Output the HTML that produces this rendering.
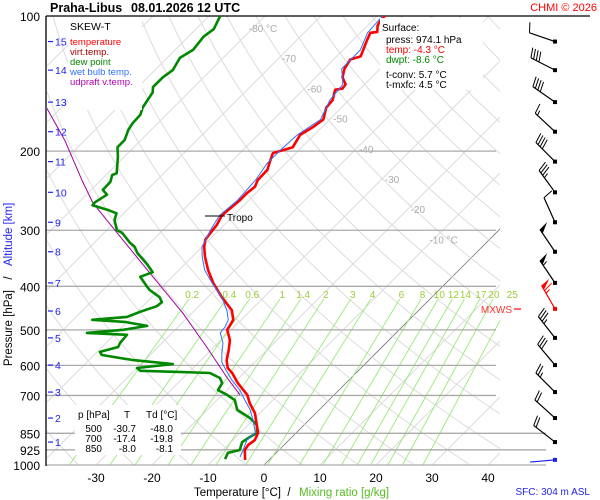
<!DOCTYPE html>
<html><head><meta charset="utf-8">
<style>
html,body{margin:0;padding:0;background:#fff;}
svg{display:block;font-family:"Liberation Sans",sans-serif;}
</style></head>
<body>
<svg id="chart" width="600" height="500" viewBox="0 0 600 500">
<defs>
<clipPath id="plotclip"><rect x="47" y="16" width="453" height="449"/></clipPath>
<clipPath id="mrclip"><rect x="47" y="299" width="453" height="166"/></clipPath>
</defs>
<rect x="0" y="0" width="600" height="500" fill="#fff"/>
<g id="bg" clip-path="url(#plotclip)"></g>
<g id="mr" clip-path="url(#mrclip)"></g>
<g id="plines"></g>
<g id="labels"></g>
<g id="series" clip-path="url(#plotclip)"></g>
<g id="winds"></g>

<text x="50" y="12" font-size="12.5" font-weight="bold">Praha-Libus</text>
<text x="131" y="12" font-size="12.5" font-weight="bold">08.01.2026 12 UTC</text>
<text x="597" y="11" font-size="11" fill="#f00" text-anchor="end">CHMI © 2026</text>

<g>
<rect x="68" y="17" width="74" height="93" fill="#fff"/>
<text x="70" y="30" font-size="10.5" fill="#000">SKEW-T</text>
<text x="70" y="45" font-size="9.5" fill="#f00">temperature</text>
<text x="70" y="55" font-size="9.5" fill="#a00">virt.temp.</text>
<text x="70" y="65" font-size="9.5" fill="#080">dew point</text>
<text x="70" y="75" font-size="9.5" fill="#3070ff">wet bulb temp.</text>
<text x="70" y="85" font-size="9.5" fill="#b000b0">udpraft v.temp.</text>
</g>
<g id="axes"></g>

<g>
<rect x="380" y="18" width="103" height="72" fill="#fff"/>
<text x="382" y="31" font-size="10">Surface:</text>
<text x="386" y="43" font-size="10">press: 974.1 hPa</text>
<text x="386" y="53" font-size="10" fill="#f00">temp: -4.3 °C</text>
<text x="386" y="63" font-size="10" fill="#080">dwpt: -8.6 °C</text>
<text x="386" y="78" font-size="10">t-conv: 5.7 °C</text>
<text x="386" y="88" font-size="10">t-mxfc: 4.5 °C</text>
</g>

<g>
<rect x="75" y="405" width="106" height="50" fill="#fff"/>
<text x="78" y="418" font-size="10">p [hPa]</text>
<text x="127" y="418" font-size="10" text-anchor="middle">T</text>
<text x="146" y="418" font-size="10">Td [°C]</text>
<text x="102" y="432" font-size="10" text-anchor="end">500</text>
<text x="136" y="432" font-size="10" text-anchor="end">-30.7</text>
<text x="173" y="432" font-size="10" text-anchor="end">-48.0</text>
<text x="102" y="442" font-size="10" text-anchor="end">700</text>
<text x="136" y="442" font-size="10" text-anchor="end">-17.4</text>
<text x="173" y="442" font-size="10" text-anchor="end">-19.8</text>
<text x="102" y="452" font-size="10" text-anchor="end">850</text>
<text x="136" y="452" font-size="10" text-anchor="end">-8.0</text>
<text x="173" y="452" font-size="10" text-anchor="end">-8.1</text>
</g>

<g>
<line x1="205" y1="216" x2="225" y2="216" stroke="#000" stroke-width="1"/>
<text x="227" y="221" font-size="10">Tropo</text>
</g>
<text x="512" y="313" font-size="10" fill="#f33" text-anchor="end">MXWS</text>
<line x1="514" y1="309" x2="521" y2="309" stroke="#f00" stroke-width="1.2"/>

<g transform="rotate(-90 12 258)">
<text x="-20" y="258" font-size="11.5" text-anchor="end">Pressure [hPa]</text>
<text x="-8" y="258" font-size="11.5" text-anchor="middle">/</text>
<text x="4" y="258" font-size="11.5" fill="#2222ee">Altitude [km]</text>
</g>
<text x="281" y="496" font-size="11.5" text-anchor="end">Temperature [°C]</text>
<text x="289" y="496" font-size="11.5" text-anchor="middle">/</text>
<text x="299" y="496" font-size="11.5" fill="#55bb22">Mixing ratio [g/kg]</text>
<text x="590" y="495" font-size="10" fill="#2222ee" text-anchor="end">SFC: 304 m ASL</text>
</svg>

<script>
// ---- data ----
const tempP = [974,926,903,880,848,807,766,728,698,657,624,608,584,555,527,500,475,452,423,393,368,344,327,315,300,292,278,266,257,248,240,232,220,213,202,199,196,184,177,170,160,154,146,145,142,137,131,125,123,119,113,109,108.5,105,100.5,100];
const tempT = [-4.3,-6.1,-6.4,-6.1,-6.8,-8.8,-10.9,-13.6,-15.5,-19.3,-22.1,-23.8,-25.4,-26.8,-28.4,-30.7,-31.4,-33.4,-37.5,-41.6,-44.8,-47.7,-49.6,-50.7,-51.1,-51.3,-52.1,-51.8,-51.6,-51.6,-51.3,-52.0,-52.1,-52.9,-54.1,-52.9,-51.6,-52.5,-51.6,-51.1,-52.7,-52.9,-54.3,-53.2,-53.4,-55.2,-56.4,-57.0,-55.7,-56.4,-57.5,-58.2,-57.1,-58.2,-58.8,-58.5];
const dewP = [970,940,926,889,866,848,815,786,754,717,698,681,657,640,624,621,617,608,596,584,569,560,546,535,513,508,500,490,480,475,468,456,443,434,423,408,401,381,372,359,349,337,327,319,304,300,285,275,270,264,260,250,244,234,226,224,206,196,189,179,173,166,160,148,144,137,132,124,119,111,107,100];
const dewT = [-8.0,-8.6,-7.0,-8.0,-7.5,-7.0,-8.4,-10.9,-14.6,-16.8,-19.1,-21.6,-22.1,-23.4,-26.1,-31.1,-38.9,-40.0,-34.3,-42.1,-48.6,-49.5,-47.1,-47.5,-47.7,-55.2,-49.3,-45.7,-50.4,-56.6,-50.9,-49.5,-47.5,-47.3,-48.6,-51.6,-52.7,-55.7,-54.3,-56.4,-58.2,-60.5,-62.0,-63.8,-66.8,-68.2,-70.4,-71.3,-73.6,-77.0,-77.1,-76.3,-77.9,-78.0,-78.9,-78.4,-81.1,-82.9,-82.9,-84.1,-84.5,-84.6,-85.5,-86.4,-87.3,-87.3,-86.8,-87.7,-86.8,-87.3,-86.8,-88.0];
const wbP = [960,926,880,848,794,754,717,681,647,614,590,560,535,508,493,475,452,423,393,368,344,327,300,278,257,232,213,199,184,170,154,142,131,119,109,100];
const wbT = [-5.7,-6.4,-7.5,-7.3,-10.0,-12.3,-15.0,-17.7,-20.9,-23.8,-25.9,-27.7,-29.1,-31.4,-31.6,-32.3,-34.3,-37.5,-41.8,-45.4,-48.2,-50.0,-51.5,-52.5,-52.0,-52.4,-53.3,-53.3,-53.0,-51.6,-53.4,-53.9,-56.9,-56.9,-58.7,-59.0];
const updP = [159,189,232,261,304,374,459,546,640,698];
const updT = [-103.0,-93.6,-83.4,-77.3,-67.7,-54.6,-41.6,-31.3,-22.1,-16.8];
const pressureLevels = [100,200,300,400,500,600,700,850,925,1000];
const altKm = [15,14,13,12,11,10,9,8,7,6,5,4,3,2,1];
const altP = [114,132,155.5,181,211,247,288,335,393,454,521,599,688,786,889];
const tempTicks = [-30,-20,-10,0,10,20,30,40];
const isoLabels = [-80,-70,-60,-50,-40,-30,-20,-10];
const mrValues = [0.2,0.4,0.6,1,1.4,2,3,4,6,8,10,12,14,17,20,25];
const windP = [114,132,155.5,181,211,247,288,335,393,449,521,599,688,786,889,974];
const windDir = [289,297,305,313,315,324,336,326,326,330,322,320,315,312,308,265];
const windSpd = [10,40,40,15,40,35,10,50,55,65,35,30,25,20,20,3];

// ---- axis functions ----
const NS = 'http://www.w3.org/2000/svg';
function yP(p){ return 16 + (Math.log10(p) - 2) * 449; }
function xT(t, p){ return 264 + 5.6 * t + (465 - yP(p)); }
function mk(tag, attrs, parent){ const e = document.createElementNS(NS, tag); for (const k in attrs) e.setAttribute(k, attrs[k]); parent.appendChild(e); return e; }
const bg = document.getElementById('bg'), mr = document.getElementById('mr'), pl = document.getElementById('plines');
const lab = document.getElementById('labels'), ser = document.getElementById('series'), wg = document.getElementById('winds'), ax = document.getElementById('axes');

for (let t = -160; t <= 40; t += 10) {
  const l = mk('line', {x1: xT(t,1050), y1: yP(1050), x2: xT(t,95), y2: yP(95), stroke: t === 0 ? '#777' : '#dcdcdc', 'stroke-width': t === 0 ? 0.8 : 1}, bg);
  
  
}
for (let th = 200; th <= 520; th += 10) {
  let d = '';
  for (let p = 1050; p >= 95; p -= 10) {
    const t = th * Math.pow(p / 1000, 0.286) - 273.15;
    d += (d ? 'L' : 'M') + xT(t,p).toFixed(1) + ' ' + yP(p).toFixed(1);
  }
  const a = mk('path', {d: d, fill: 'none', stroke: '#dcdcdc', 'stroke-width': 1}, bg);
  
  
}
function tdFromW(w, p){ const e = w * p / (622 + w); const l = Math.log(e / 6.112); return 243.5 * l / (17.67 - l); }
mrValues.forEach(w => {
  const l = mk('line', {x1: xT(tdFromW(w,1000),1000), y1: yP(1000), x2: xT(tdFromW(w,395),395), y2: yP(395), stroke: '#9be87a', 'stroke-width': 0.9}, mr);
  
  
  const tx = mk('text', {x: xT(tdFromW(w,400),400) - 6, y: 298, 'font-size': 10, fill: '#9acd32', 'text-anchor': 'middle'}, lab);
  tx.textContent = String(w);
  
  
});
isoLabels.forEach((t, i) => {
  const p = 100 * Math.pow(10, (28 + i * 30.2 - 16) / 449);
  const tx = mk('text', {x: xT(t,p) + 10, y: yP(p) + 4, 'font-size': 10, fill: '#aaa', 'text-anchor': 'middle'}, lab);
  tx.textContent = (i === 0 || i === isoLabels.length - 1) ? t + ' °C' : String(t);
  
  
});
pressureLevels.forEach(p => {
  const xe = p >= 850 ? 546 : (p === 100 ? 590 : 496);
  const l = mk('line', {x1: 46, y1: yP(p), x2: xe, y2: yP(p), stroke: p === 100 ? '#000' : '#aaa', 'stroke-width': p === 100 ? 1.2 : 1.3}, pl);
  
  
  const tx = mk('text', {x: 40, y: yP(p) + 5, 'font-size': 12, 'text-anchor': 'end'}, ax);
  tx.textContent = String(p);
  
  
});
altKm.forEach((k, i) => {
  const y = yP(altP[i]);
  const l = mk('line', {x1: 48, y1: y, x2: 53, y2: y, stroke: '#2222ee', 'stroke-width': 1.2}, ax);
  
  
  const tx = mk('text', {x: 55, y: y + 4, 'font-size': 10.5, fill: '#2222ee'}, ax);
  tx.textContent = String(k);
  
  
});
const yaxis = mk('line', {x1: 46, y1: 16, x2: 46, y2: 466, stroke: '#000', 'stroke-width': 1.3}, ax);


tempTicks.forEach(t => {
  const tx = mk('text', {x: xT(t,1000), y: 482, 'font-size': 12, 'text-anchor': 'middle'}, ax);
  tx.textContent = String(t);
  
  
});
function series(P, T, color, w, name){
  const d = P.map((p, i) => (i ? 'L' : 'M') + xT(T[i], p).toFixed(1) + ' ' + yP(p).toFixed(1)).join('');
  const e = mk('path', {d: d, fill: 'none', stroke: color, 'stroke-width': w, 'stroke-linejoin': 'round'}, ser);
  
  
}
series(updP, updT, '#a000a0', 1, 'updraft-line');
series(dewP, dewT, '#008800', 2.6, 'dew-point-line');
series(tempP, tempT, '#ff0000', 2.6, 'temperature-line');
series(wbP, wbT, '#3070ff', 1, 'wet-bulb-line');
windP.forEach((p, i) => {
  const y = yP(p), x = 555, last = i === windP.length - 1;
  const col = p === 449 ? '#f00' : (last ? '#2222ee' : '#000');
  const a = windDir[i] * Math.PI / 180;
  const ux = Math.sin(a), uy = -Math.cos(a);
  const L = last ? 25 : 27;
  const tx = x + ux * L, ty = y + uy * L;
  const g = mk('g', {}, wg);
  
  
  mk('line', {x1: x, y1: y, x2: tx, y2: ty, stroke: col, 'stroke-width': 1.2}, g);
  mk('rect', {x: x - 2, y: y - 2, width: 4, height: 4, fill: col}, g);
  const px = -uy, py = ux;
  let s = windSpd[i], pos = 0;
  while (s >= 50) {
    const bx = tx - ux * pos, by = ty - uy * pos;
    mk('polygon', {points: `${bx},${by} ${bx + px*10 + ux*2},${by + py*10 + uy*2} ${bx - ux*5},${by - uy*5}`, fill: col}, g);
    pos += 6; s -= 50;
  }
  while (s >= 10) {
    const bx = tx - ux * pos, by = ty - uy * pos;
    mk('line', {x1: bx, y1: by, x2: bx + px*10 + ux*3, y2: by + py*10 + uy*3, stroke: col, 'stroke-width': 1}, g);
    pos += 3; s -= 10;
  }
  if (s >= 5) {
    const bx = tx - ux * pos, by = ty - uy * pos;
    mk('line', {x1: bx, y1: by, x2: bx + px*5 + ux*1.5, y2: by + py*5 + uy*1.5, stroke: col, 'stroke-width': 1}, g);
  }
});
</script>
</body></html>
